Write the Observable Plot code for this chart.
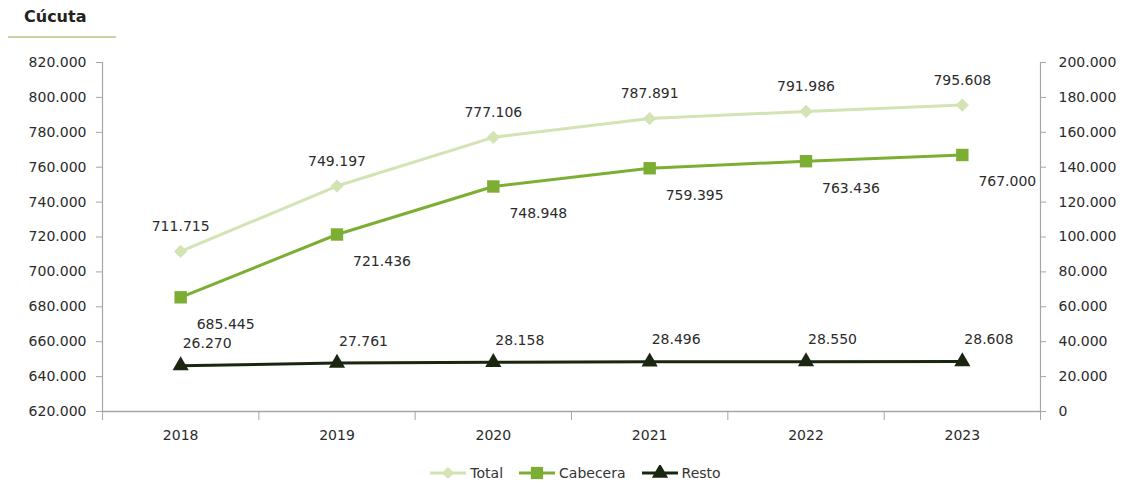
<!DOCTYPE html>
<html>
<head>
<meta charset="utf-8">
<script src="https://cdn.jsdelivr.net/npm/d3@7"></script>
<script src="https://cdn.jsdelivr.net/npm/@observablehq/plot@0.6"></script>
<style>
  body { margin: 0; background: #fff; font-family: "DejaVu Sans", sans-serif; color: #333; }
  #wrap { width: 1123px; height: 485px; position: relative; }
  #title { height: 45px; position: relative; }
  #title span { position: absolute; left: 24px; top: 7px; font-size: 16px; font-weight: bold; color: #222; }
  #title div { position: absolute; left: 8px; top: 36px; width: 108px; height: 2px; background: #c9d3a6; }
  #legend { height: 44px; display: flex; align-items: center; justify-content: center; padding-left: 28px; font-size: 14px; color: #333; }
  .item { display: flex; align-items: center; margin: 0 8px; }
  .item svg { margin-right: 4px; }
</style>
</head>
<body>
<div id="wrap">
  <div id="title"><span>Cúcuta</span><div></div></div>
  <div id="chart"></div>
  <div id="legend"></div>
</div>
<script>
const years = [2018, 2019, 2020, 2021, 2022, 2023];
const total = [711715, 749197, 777106, 787891, 791986, 795608];
const cabecera = [685445, 721436, 748948, 759395, 763436, 767000];
const resto = [26270, 27761, 28158, 28496, 28550, 28608];
const leftTicks = [620000, 640000, 660000, 680000, 700000, 720000, 740000, 760000, 780000, 800000, 820000];
const rightTicks = [0, 20000, 40000, 60000, 80000, 100000, 120000, 140000, 160000, 180000, 200000];
const seriesNames = ["Total", "Cabecera", "Resto"];

const colors = { Total: "#d3e3b3", Cabecera: "#7dae34", Resto: "#1b2611" };
const axisGray = "#a6a6a6";
const offset = leftTicks[0] - rightTicks[0]; // secondary axis maps 0 -> 620.000

const loc = d3.formatLocale({ decimal: ",", thousands: ".", grouping: [3], currency: ["$", ""] });
const fmt = loc.format(",d");

const rows = years.map((year, i) => ({ year, total: total[i], cabecera: cabecera[i], resto: resto[i] }));
const boundaries = years.map(y => y - 0.5).concat([years[years.length - 1] + 0.5]);

const chart = Plot.plot({
  width: 1123,
  height: 406,
  marginLeft: 102,
  marginRight: 83,
  marginTop: 17,
  marginBottom: 40,
  style: { fontFamily: "DejaVu Sans, sans-serif", fontSize: "14px", color: "#2b2b2b", background: "#fff" },
  x: { domain: [boundaries[0], boundaries[boundaries.length - 1]] },
  y: { domain: [leftTicks[0], leftTicks[leftTicks.length - 1]] },
  marks: [
    Plot.ruleY([leftTicks[0]], { stroke: axisGray, strokeWidth: 1.5 }),
    Plot.ruleX([boundaries[0], boundaries[boundaries.length - 1]], { y1: leftTicks[0], y2: leftTicks[leftTicks.length - 1], stroke: axisGray, strokeWidth: 1.2 }),
    Plot.axisY({ anchor: "left", ticks: leftTicks, tickSize: 6, tickPadding: 10, tickFormat: fmt, stroke: axisGray, label: null }),
    Plot.axisY({ anchor: "right", ticks: rightTicks.map(v => v + offset), tickSize: 5, tickPadding: 13, tickFormat: d => fmt(d - offset), stroke: axisGray, label: null }),
    Plot.axisX({ ticks: years, tickSize: 0, tickPadding: 19, tickFormat: d => String(d), label: null }),
    Plot.axisX({ ticks: boundaries, tickSize: 9, tickFormat: () => "", stroke: axisGray, label: null }),
    // Total
    Plot.line(rows, { x: "year", y: "total", stroke: colors.Total, strokeWidth: 3 }),
    Plot.dot(rows, { x: "year", y: "total", symbol: "diamond2", r: 5.5, fill: colors.Total, stroke: colors.Total, strokeWidth: 1 }),
    Plot.text(rows, { x: "year", y: "total", text: d => fmt(d.total), dy: -25, fill: "#2b2b2b" }),
    // Cabecera
    Plot.line(rows, { x: "year", y: "cabecera", stroke: colors.Cabecera, strokeWidth: 3 }),
    Plot.dot(rows, { x: "year", y: "cabecera", symbol: "square", r: 7, fill: colors.Cabecera }),
    Plot.text(rows, { x: "year", y: "cabecera", text: d => fmt(d.cabecera), dx: 45, dy: 27, fill: "#2b2b2b" }),
    // Resto (secondary axis)
    Plot.line(rows, { x: "year", y: d => d.resto + offset, stroke: colors.Resto, strokeWidth: 3 }),
    Plot.dot(rows, { x: "year", y: d => d.resto + offset, symbol: "triangle", r: 6, fill: colors.Resto }),
    Plot.text(rows, { x: "year", y: d => d.resto + offset, text: d => fmt(d.resto), dx: 2, dy: -22, textAnchor: "start", fill: "#2b2b2b" })
  ]
});
document.getElementById("chart").appendChild(chart);

// Legend
const symbolPaths = {
  Total: d3.symbol(d3.symbolDiamond2, 95)(),
  Cabecera: d3.symbol(d3.symbolSquare, 150)(),
  Resto: d3.symbol(d3.symbolTriangle, 115)()
};
const legend = document.getElementById("legend");
seriesNames.forEach(name => {
  const item = document.createElement("div");
  item.className = "item";
  item.innerHTML = `<svg width="36" height="16"><line x1="0" x2="36" y1="8" y2="8" stroke="${colors[name]}" stroke-width="3"/><path transform="translate(18,8)" d="${symbolPaths[name]}" fill="${colors[name]}"/></svg><span>${name}</span>`;
  legend.appendChild(item);
});
</script>
</body>
</html>
